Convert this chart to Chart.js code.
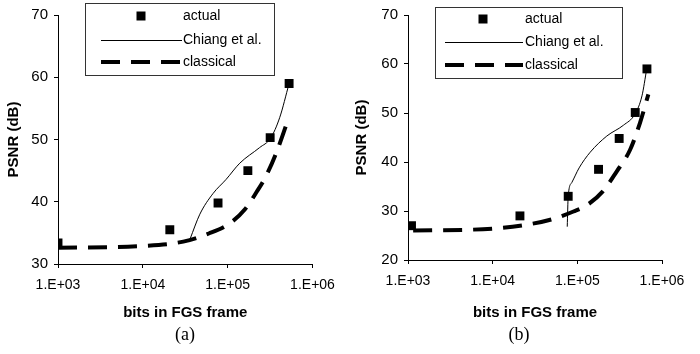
<!DOCTYPE html>
<html>
<head>
<meta charset="utf-8">
<script src="https://cdn.jsdelivr.net/npm/chart.js@4.4.1/dist/chart.umd.min.js"></script>
<style>
  html, body { margin: 0; padding: 0; background: #fff; }
  #wrap { position: relative; width: 700px; height: 354px; }
  #wrap canvas { position: absolute; top: 0; }
</style>
</head>
<body>
<div id="wrap">
  <canvas id="chartA" width="350" height="354" style="left:0"></canvas>
  <canvas id="chartB" width="350" height="354" style="left:350px"></canvas>
</div>
<script>
// axis ticks
const xTicks = [1e3, 1e4, 1e5, 1e6];
const xTickLabels = ["1.E+03", "1.E+04", "1.E+05", "1.E+06"];
const seriesNames = ["actual", "Chiang et al.", "classical"];

// (a)
const actualBitsA = [1.0e3, 2.08e4, 7.7e4, 1.73e5, 3.17e5, 5.3e5];
const actualPsnrA = [33.4, 35.5, 39.8, 45.0, 50.3, 59.0];
const chiangBitsA = [3.6e4, 4.7e4, 6.7e4, 9.6e4, 1.39e5, 2.38e5, 3.2e5, 4.1e5, 5.3e5];
const chiangPsnrA = [34.0, 38.0, 41.3, 43.6, 46.2, 48.7, 50.2, 53.5, 59.0];
const classicalBitsA = [1.0e3, 1e4, 3e4, 6e4, 1.05e5, 1.6e5, 2.2e5, 2.8e5, 3.7e5, 5.1e5];
const classicalPsnrA = [32.6, 32.9, 33.6, 34.9, 36.5, 38.8, 41.6, 44.0, 47.7, 53.0];

// (b)
const actualBitsB = [1.1e3, 2.1e4, 7.8e4, 1.78e5, 3.12e5, 4.83e5, 6.64e5];
const actualPsnrB = [27.0, 29.0, 33.0, 38.5, 44.8, 50.1, 59.0];
const chiangBitsB = [7.6e4, 7.8e4, 8.6e4, 1.05e5, 1.42e5, 2.23e5, 3.5e5, 4.8e5, 5.8e5, 6.6e5];
const chiangPsnrB = [26.8, 33.0, 35.8, 38.8, 42.0, 45.3, 47.5, 49.8, 53.5, 59.0];
const classicalBitsB = [1.15e3, 1e4, 2.5e4, 5e4, 9e4, 1.3e5, 2e5, 2.9e5, 4.2e5, 5.5e5, 6.9e5];
const classicalPsnrB = [26.0, 26.4, 27.2, 28.3, 29.9, 31.2, 34.0, 38.0, 42.5, 48.0, 53.8];

const SANS = "'Liberation Sans', Arial, sans-serif";
const SERIF = "'Liberation Serif', 'Times New Roman', serif";

function toPoints(xs, ys) {
    return xs.map((x, i) => ({ x: x, y: ys[i] }));
}

// axis titles, caption and the boxed legend
const panelDecor = {
    id: "panelDecor",
    afterDraw(chart, args, opts) {
        const ctx = chart.ctx;
        const area = chart.chartArea;
        ctx.save();
        ctx.fillStyle = "#000";

        // y title
        ctx.save();
        ctx.translate(opts.yTitleX, (area.top + area.bottom) / 2);
        ctx.rotate(-Math.PI / 2);
        ctx.font = "bold 15px " + SANS;
        ctx.textAlign = "center";
        ctx.textBaseline = "middle";
        ctx.fillText("PSNR (dB)", 0, 0);
        ctx.restore();

        // x title
        ctx.font = "bold 15px " + SANS;
        ctx.textAlign = "center";
        ctx.textBaseline = "middle";
        ctx.fillText("bits in FGS frame", (area.left + area.right) / 2, opts.xTitleY);

        // caption
        ctx.font = "18px " + SERIF;
        ctx.fillText(opts.caption, opts.captionX, opts.captionY);

        // legend
        const lg = opts.legend;
        ctx.fillStyle = "#fff";
        ctx.fillRect(lg.x, lg.y, lg.w, lg.h);
        ctx.strokeStyle = "#333";
        ctx.lineWidth = 1;
        ctx.strokeRect(lg.x + 0.5, lg.y + 0.5, lg.w, lg.h);

        ctx.fillStyle = "#000";
        ctx.fillRect(lg.markerX - 4.5, lg.rows[0] - 4.5, 9, 9);

        ctx.strokeStyle = "#000";
        ctx.beginPath();
        ctx.moveTo(lg.lineX0, lg.rows[1] + 0.5);
        ctx.lineTo(lg.lineX1, lg.rows[1] + 0.5);
        ctx.stroke();

        ctx.lineWidth = 4;
        ctx.setLineDash([19, 11]);
        ctx.beginPath();
        ctx.moveTo(lg.lineX0, lg.rows[2]);
        ctx.lineTo(lg.lineX1, lg.rows[2]);
        ctx.stroke();
        ctx.setLineDash([]);

        ctx.font = "14px " + SANS;
        ctx.textAlign = "left";
        ctx.textBaseline = "middle";
        seriesNames.forEach((name, i) => {
            ctx.fillText(name, lg.textX, lg.rows[i]);
        });
        ctx.restore();
    },
};

function makeChart(canvasId, series, layout) {
    const ctx = document.getElementById(canvasId).getContext("2d");
    return new Chart(ctx, {
        type: "scatter",
        data: {
            datasets: [
                {
                    label: seriesNames[0],
                    data: toPoints(series.actualX, series.actualY),
                    pointStyle: "rect",
                    pointRadius: 6.3,
                    backgroundColor: "#000",
                    borderColor: "#000",
                    borderWidth: 0,
                    showLine: false,
                },
                {
                    label: seriesNames[1],
                    data: toPoints(series.chiangX, series.chiangY),
                    showLine: true,
                    borderColor: "#000",
                    borderWidth: 1,
                    pointRadius: 0,
                    cubicInterpolationMode: "monotone",
                },
                {
                    label: seriesNames[2],
                    data: toPoints(series.classicalX, series.classicalY),
                    showLine: true,
                    borderColor: "#000",
                    borderWidth: 4,
                    borderDash: [19, 11],
                    pointRadius: 0,
                    cubicInterpolationMode: "monotone",
                },
            ],
        },
        options: {
            responsive: false,
            animation: false,
            devicePixelRatio: 1,
            layout: {
                padding: { top: layout.top, right: layout.right, left: 0, bottom: 0 },
            },
            plugins: {
                legend: { display: false },
                tooltip: { enabled: false },
                panelDecor: layout.decor,
            },
            scales: {
                x: {
                    type: "logarithmic",
                    min: 1e3,
                    max: 1e6,
                    afterBuildTicks: (scale) => {
                        scale.ticks = xTicks.map((v) => ({ value: v }));
                    },
                    afterFit: (scale) => {
                        scale.height = layout.xHeight;
                    },
                    ticks: {
                        callback: (value, index) => xTickLabels[index],
                        font: { family: SANS, size: 14 },
                        color: "#000",
                        padding: 9,
                        maxRotation: 0,
                        autoSkip: false,
                    },
                    grid: {
                        drawOnChartArea: false,
                        tickLength: 4,
                        color: "#000",
                    },
                    border: { color: "#000" },
                },
                y: {
                    min: series.yMin,
                    max: 70,
                    afterFit: (scale) => {
                        scale.width = layout.yWidth;
                    },
                    ticks: {
                        stepSize: 10,
                        font: { family: SANS, size: 15 },
                        color: "#000",
                        padding: 6,
                    },
                    grid: {
                        drawOnChartArea: false,
                        tickLength: 4,
                        color: "#000",
                    },
                    border: { color: "#000" },
                },
            },
        },
        plugins: [panelDecor],
    });
}

makeChart(
    "chartA",
    {
        actualX: actualBitsA, actualY: actualPsnrA,
        chiangX: chiangBitsA, chiangY: chiangPsnrA,
        classicalX: classicalBitsA, classicalY: classicalPsnrA,
        yMin: 30,
    },
    {
        top: 14, right: 37.5, yWidth: 58, xHeight: 90,
        decor: {
            yTitleX: 14, xTitleY: 313, caption: "(a)", captionX: 185, captionY: 335,
            legend: {
                x: 85, y: 3, w: 189, h: 72,
                markerX: 141, lineX0: 101, lineX1: 182, textX: 183,
                rows: [16, 40, 62],
            },
        },
    }
);

makeChart(
    "chartB",
    {
        actualX: actualBitsB, actualY: actualPsnrB,
        chiangX: chiangBitsB, chiangY: chiangPsnrB,
        classicalX: classicalBitsB, classicalY: classicalPsnrB,
        yMin: 20,
    },
    {
        top: 13, right: 38, yWidth: 58, xHeight: 94,
        decor: {
            yTitleX: 12, xTitleY: 313, caption: "(b)", captionX: 169, captionY: 335,
            legend: {
                x: 85, y: 7, w: 187, h: 71,
                markerX: 133, lineX0: 95, lineX1: 173, textX: 175,
                rows: [19, 42, 65],
            },
        },
    }
);
</script>
</body>
</html>
